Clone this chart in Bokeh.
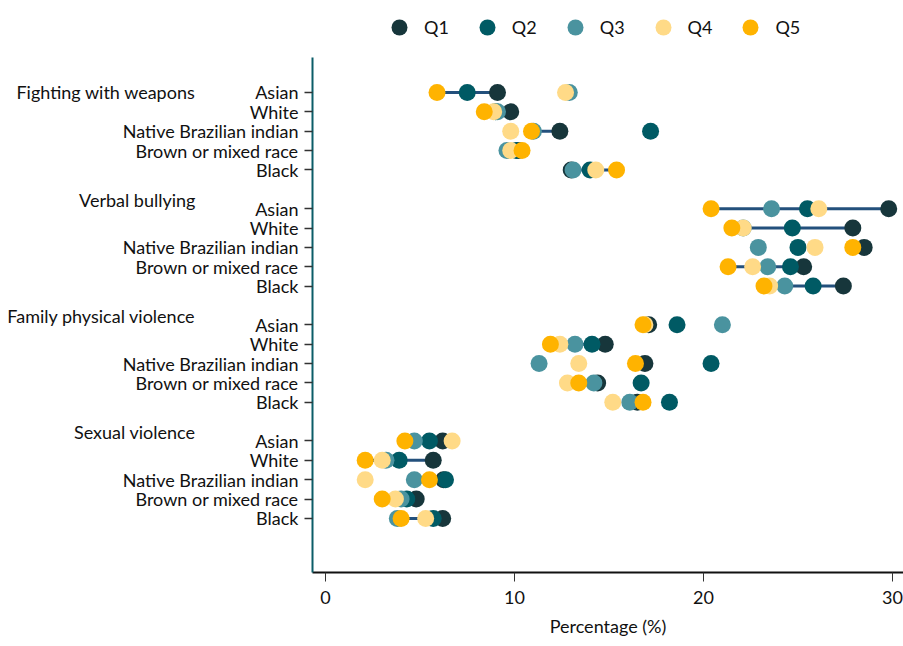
from bokeh.plotting import figure
from bokeh.models import (Range1d, FixedTicker, Label, Legend, LegendItem,
                          ColumnDataSource)
from bokeh.embed import file_html
from bokeh.resources import INLINE

# Outcomes and race/colour groups (rows listed top to bottom)
outcomes = ["Fighting with weapons", "Verbal bullying",
            "Family physical violence", "Sexual violence"]
races = ["Asian", "White", "Native Brazilian indian",
         "Brown or mixed race", "Black"]
quintiles = ["Q1", "Q2", "Q3", "Q4", "Q5"]

# Percentages per quintile, rows in the order outcome x race
q1 = [9.1, 9.8, 12.4, 10.2, 13.0,
      29.8, 27.9, 28.5, 25.3, 27.4,
      17.1, 14.8, 16.9, 14.4, 16.5,
      6.2, 5.7, 6.25, 4.8, 6.2]
q2 = [7.5, 9.0, 17.2, 10.1, 14.0,
      25.5, 24.7, 25.0, 24.6, 25.8,
      18.6, 14.1, 20.4, 16.7, 18.2,
      5.5, 3.9, 6.35, 4.3, 5.7]
q3 = [12.9, 9.1, 11.0, 9.6, 13.1,
      23.6, 22.1, 22.9, 23.4, 24.3,
      21.0, 13.2, 11.3, 14.2, 16.1,
      4.7, 3.2, 4.7, 4.0, 3.8]
q4 = [12.7, 8.9, 9.8, 9.8, 14.3,
      26.1, 22.1, 25.9, 22.6, 23.5,
      16.9, 12.4, 13.4, 12.8, 15.2,
      6.7, 3.0, 2.1, 3.7, 5.3]
q5 = [5.9, 8.4, 10.9, 10.4, 15.4,
      20.4, 21.5, 27.9, 21.3, 23.2,
      16.8, 11.9, 16.4, 13.4, 16.8,
      4.2, 2.1, 5.5, 3.0, 4.0]

colors = ["#17363b", "#005a64", "#4a939f", "#ffda87", "#ffb300"]
series = [q1, q2, q3, q4, q5]

# Row index: five races per outcome, one blank row between outcomes
rows = [g * 6 + r for g in range(len(outcomes)) for r in range(len(races))]
row_labels = {g * 6 + r: races[r]
              for g in range(len(outcomes)) for r in range(len(races))}
heading_rows = [0, 5.53, 11.57, 17.56]

FONT = "Lato"
FS = "18px"
INK = "#111111"

# axis extents in data units
X_MIN, X_MAX = -0.69, 30.58
Y_TOP, Y_BOTTOM = -1.81, 24.79

p = figure(width=903, height=646, output_backend="svg", toolbar_location=None,
           x_range=Range1d(-17.196, 30.582), y_range=Range1d(28.616, -4.752),
           min_border=0, min_border_left=0, min_border_right=0,
           min_border_top=0, min_border_bottom=0)
p.outline_line_color = None
p.xgrid.visible = False
p.ygrid.visible = False
p.background_fill_color = "white"
p.border_fill_color = "white"

# Q1-Q5 connecting segments
p.segment(x0=q1, y0=rows, x1=q5, y1=rows, line_color="#23507c", line_width=3)

renderers = []
for name, vals, col in zip(quintiles, series, colors):
    src = ColumnDataSource(dict(x=vals, y=rows))
    r = p.scatter("x", "y", source=src, size=17, marker="circle",
                  fill_color=col, line_color=None)
    renderers.append((name, r))

# y axis: race labels
ya = p.yaxis[0]
ya.fixed_location = X_MIN
ya.bounds = (Y_TOP, Y_BOTTOM)
ya.ticker = FixedTicker(ticks=rows)
ya.major_label_overrides = {k: v for k, v in row_labels.items()}
ya.axis_line_color = "#0b5d68"
ya.axis_line_width = 2
ya.major_tick_line_color = "#333333"
ya.major_tick_line_width = 1.5
ya.major_tick_out = 8
ya.major_tick_in = 0
ya.minor_tick_line_color = None
ya.major_label_text_font = FONT
ya.major_label_text_font_size = FS
ya.major_label_text_color = INK
ya.major_label_standoff = 6

# x axis
xa = p.xaxis[0]
xa.fixed_location = Y_BOTTOM
xa.bounds = (X_MIN, X_MAX)
xa.ticker = FixedTicker(ticks=[0, 10, 20, 30])
xa.axis_line_color = INK
xa.axis_line_width = 2
xa.major_tick_line_color = "#333333"
xa.major_tick_out = 9
xa.major_tick_in = 0
xa.minor_tick_line_color = None
xa.major_label_text_font = FONT
xa.major_label_text_font_size = FS
xa.major_label_text_color = INK
xa.major_label_standoff = 10
xa.axis_label = "Percentage (%)"
xa.axis_label_text_font = FONT
xa.axis_label_text_font_size = FS
xa.axis_label_text_font_style = "normal"
xa.axis_label_text_color = INK
xa.axis_label_standoff = 7

# outcome headings, right-aligned left of the race labels
for txt, yr in zip(outcomes, heading_rows):
    p.add_layout(Label(x=-6.88, y=yr, text=txt, text_align="right",
                       text_baseline="middle", text_font=FONT,
                       text_font_size=FS, text_color=INK))

# legend row above the plotting area
legend = Legend(items=[LegendItem(label=n, renderers=[r]) for n, r in renderers],
                orientation="horizontal", location=(379, 599),
                label_text_font=FONT, label_text_font_size=FS,
                label_text_color=INK, glyph_width=40, glyph_height=40,
                label_standoff=5, spacing=18, label_width=22,
                border_line_color=None, background_fill_alpha=0,
                padding=0, margin=0)
p.add_layout(legend)

open("out.html", "w").write(file_html(p, INLINE))
